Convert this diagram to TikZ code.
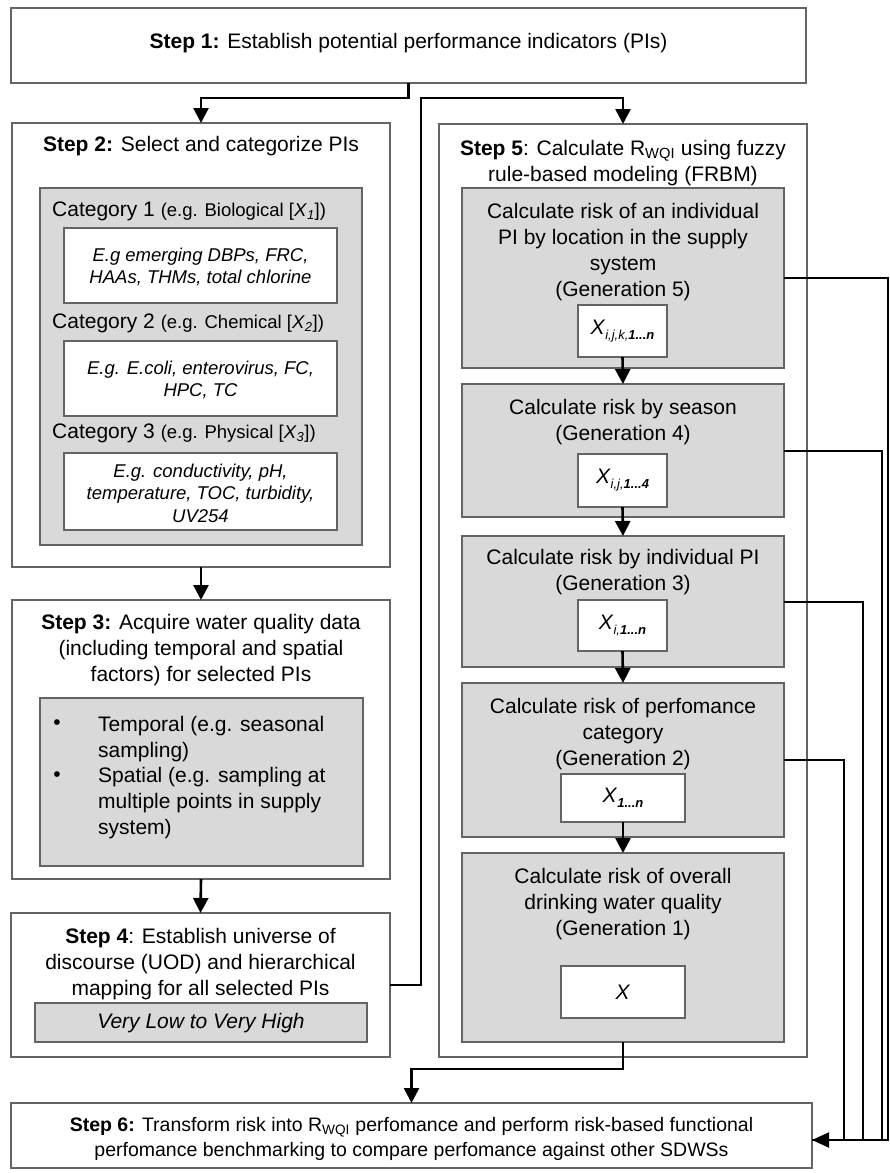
\documentclass[tikz,border=0pt]{standalone}
\usepackage{fontspec}
\setmainfont{Liberation Sans}
\usetikzlibrary{arrows.meta,calc}
\definecolor{edgegray}{RGB}{100,100,100}
\definecolor{panelgray}{RGB}{217,217,217}
\newcommand\bigtxt{\fontsize{21}{26}\selectfont}
\newcommand\midtxt{\fontsize{18.5}{22}\selectfont}
\newcommand\ittxt{\fontsize{18.5}{22.5}\selectfont\itshape}
\newcommand\Xs[1]{\textit{X}\raisebox{-0.45ex}{\fontsize{13}{13}\selectfont\itshape #1}}

\begin{document}
\begin{tikzpicture}[x=1pt,y=-1pt,
  box/.style={draw=edgegray,line width=1.4pt,inner sep=0pt,outer sep=0pt},
  stepbox/.style={box,fill=white},
  graybox/.style={box,fill=panelgray},
  whitebox/.style={box,fill=white},
  lbl/.style={inner sep=0pt,align=center,font=\bigtxt},
  itl/.style={inner sep=0pt,align=center,font=\ittxt},
  conn/.style={line width=2.6pt,-{Triangle[width=15pt,length=15pt]}},
  side/.style={line width=2pt}]

\path[use as bounding box,fill=white] (0,0) rectangle (890,1173);

% ---- Step 1 ----
\node[stepbox,minimum width=795pt,minimum height=75pt] (s1) at (408.5,45.5) {};
\node[lbl] (s1t) at (408.5,43) {\textbf{Step 1:} Establish potential performance indicators (PIs)};

% ---- Step 2 ----
\node[stepbox,minimum width=378pt,minimum height=444pt] (s2) at (201,345) {};
\node[lbl] (s2t) at (201,146) {\textbf{Step 2:} Select and categorize PIs};
\node[graybox,minimum width=322pt,minimum height=357pt] (cat) at (201,366.5) {};
\node[lbl,anchor=west] (c1) at (52,211) {Category 1 {\midtxt(e.g. Biological [\textit{X}\textsubscript{\textit{1}}])}};
\node[whitebox,minimum width=273pt,minimum height=75pt] (w1) at (200.5,265.5) {};
\node[itl] (w1t) at (200.5,267) {E.g emerging DBPs, FRC,\\HAAs, THMs, total chlorine};
\node[lbl,anchor=west] (c2) at (52,323) {Category 2 {\midtxt(e.g. Chemical [\textit{X}\textsubscript{\textit{2}}])}};
\node[whitebox,minimum width=273pt,minimum height=75pt] (w2) at (200.5,378.5) {};
\node[itl] (w2t) at (200.5,380) {E.g. E.coli, enterovirus, FC,\\HPC, TC};
\node[lbl,anchor=west] (c3) at (52,433) {Category 3 {\midtxt(e.g. Physical [\textit{X}\textsubscript{\textit{3}}])}};
\node[whitebox,minimum width=273pt,minimum height=77pt] (w3) at (200.5,491.5) {};
\node[itl] (w3t) at (200.5,493) {E.g. conductivity, pH,\\temperature, TOC, turbidity,\\UV254};

% ---- Step 3 ----
\node[stepbox,minimum width=378pt,minimum height=279pt] (s3) at (201,739.5) {};
\node[lbl] (s3t) at (201,650.5) {\textbf{Step 3:} Acquire water quality data\\(including temporal and spatial\\factors) for selected PIs};
\node[graybox,minimum width=323pt,minimum height=168pt] (bul) at (201.5,782) {};
\node[lbl] (b1) at (57,725) {\textbullet};
\node[lbl,anchor=west,align=left] (b1t) at (98,739) {Temporal (e.g. seasonal\\sampling)};
\node[lbl] (b2) at (57,777) {\textbullet};
\node[lbl,anchor=west,align=left] (b2t) at (98,803.5) {Spatial (e.g. sampling at\\multiple points in supply\\system)};

% ---- Step 4 ----
\node[stepbox,minimum width=379pt,minimum height=144pt] (s4) at (200.5,985) {};
\node[lbl] (s4t) at (200.5,964) {\textbf{Step 4}: Establish universe of\\discourse (UOD) and hierarchical\\mapping for all selected PIs};
\node[graybox,minimum width=332pt,minimum height=39pt] (vl) at (201,1022.5) {};
\node[lbl,font=\bigtxt\itshape] (vlt) at (201,1023) {Very Low to Very High};

% ---- Step 5 ----
\node[stepbox,minimum width=368pt,minimum height=933pt] (s5) at (623,590.5) {};
\node[lbl] (s5t) at (623,163) {\textbf{Step 5}: Calculate R\textsubscript{WQI} using fuzzy\\rule-based modeling (FRBM)};

\node[graybox,minimum width=322pt,minimum height=180pt] (g5) at (623,278) {};
\node[lbl] (g5t) at (623,252.5) {Calculate risk of an individual\\PI by location in the supply\\system\\(Generation 5)};
\node[whitebox,minimum width=89pt,minimum height=52pt] (x5) at (622.5,331) {};
\node[lbl] (x5t) at (622.5,331) {\Xs{i,j,k,\textbf{1...n}}};

\node[graybox,minimum width=322pt,minimum height=133pt] (g4) at (623,450.5) {};
\node[lbl] (g4t) at (623,422.5) {Calculate risk by season\\(Generation 4)};
\node[whitebox,minimum width=89pt,minimum height=53pt] (x4) at (622.5,480.5) {};
\node[lbl] (x4t) at (622.5,480.5) {\Xs{i,j,\textbf{1...4}}};

\node[graybox,minimum width=322pt,minimum height=131pt] (g3) at (623,601.5) {};
\node[lbl] (g3t) at (623,572.5) {Calculate risk by individual PI\\(Generation 3)};
\node[whitebox,minimum width=89pt,minimum height=51pt] (x3) at (622.5,625.5) {};
\node[lbl] (x3t) at (622.5,625.5) {\Xs{i,\textbf{1...n}}};

\node[graybox,minimum width=322pt,minimum height=154pt] (g2) at (623,760) {};
\node[lbl] (g2t) at (623,734) {Calculate risk of perfomance\\category\\(Generation 2)};
\node[whitebox,minimum width=124pt,minimum height=48pt] (x2) at (623,798) {};
\node[lbl] (x2t) at (623,798) {\Xs{\textbf{1...n}}};

\node[graybox,minimum width=322pt,minimum height=189pt] (g1) at (623,947.5) {};
\node[lbl] (g1t) at (623,904) {Calculate risk of overall\\drinking water quality\\(Generation 1)};
\node[whitebox,minimum width=124pt,minimum height=52pt] (x1) at (623,992) {};
\node[lbl] (x1t) at (623,992) {\textit{X}};

% ---- Step 6 ----
\node[stepbox,minimum width=801pt,minimum height=65pt] (s6) at (411.5,1135.5) {};
\node[lbl,font=\fontsize{19.5}{25}\selectfont] (s6t) at (411.5,1139) {\textbf{Step 6:} Transform risk into R\textsubscript{WQI} perfomance and perform risk-based functional\\perfomance benchmarking to compare perfomance against other SDWSs};

% ---- connectors ----
\coordinate (top2) at (421,98);
\coordinate (s6in) at ($(s6.east)+(0,4.5)$);

\draw[conn] (s1.south) -- ++(0,15) -| (s2.north);
\draw[conn] (s4.east) -| (top2) -| (s5.north);
\draw[conn] (s2.south) -- (s3.north);
\draw[conn] (s3.south) -- (s4.north);

\draw[conn] (x5.south) -- (g4.north);
\draw[conn] (x4.south) -- (g3.north);
\draw[conn] (x3.south) -- (g2.north);
\draw[conn] (x2.south) -- (g1.north);
\draw[conn] (g1.south) -- ++(0,27) -| (s6.north);

\draw[side] (g5.east) -| (888,1140) -- (s6in);
\draw[side] (g4.east) -| (882,1140) -- (s6in);
\draw[side] (g3.east) -| (863,1140) -- (s6in);
\draw[side,-{Triangle[width=15pt,length=17pt]}] (g2.east) -| (844,1140) -- (s6in);
\end{tikzpicture}
\end{document}
